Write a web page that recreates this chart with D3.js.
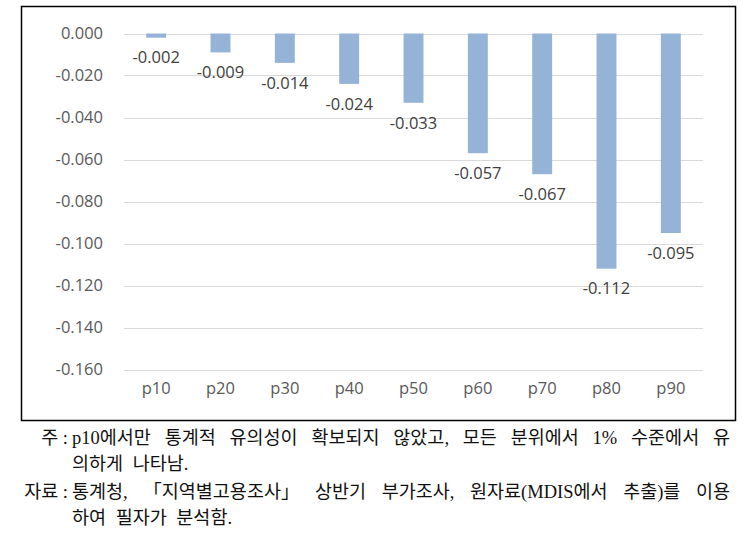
<!DOCTYPE html>
<html><head><meta charset="utf-8">
<script src="https://cdn.jsdelivr.net/npm/d3@7"></script>
<style>body{margin:0;background:#fff}svg{display:block}</style>
</head><body>
<svg id="c" width="754" height="547"></svg>
<script>
const categories = ["p10","p20","p30","p40","p50","p60","p70","p80","p90"];
const values = [-0.002,-0.009,-0.014,-0.024,-0.033,-0.057,-0.067,-0.112,-0.095];
const yTicks = [0,-0.02,-0.04,-0.06,-0.08,-0.1,-0.12,-0.14,-0.16];
const noteLines = [
  {label:"주 :", text:"p10에서만 통계적 유의성이 확보되지 않았고, 모든 분위에서 1% 수준에서 유", justify:true},
  {label:"", text:"의하게 나타남.", justify:false},
  {label:"자료 :", text:"통계청, 「지역별고용조사」 상반기 부가조사, 원자료(MDIS에서 추출)를 이용", justify:true},
  {label:"", text:"하여 필자가 분석함.", justify:false}
];

const svg = d3.select("#c");
svg.append("rect").attr("x",21.5).attr("y",6.5).attr("width",714).attr("height",414)
  .attr("fill","#fff").attr("stroke","#000").attr("stroke-width",1.5);

const x = d3.scaleBand().domain(categories).range([124,703]).paddingInner(0.69).paddingOuter(0.345);
const y = d3.scaleLinear().domain([0,-0.16]).range([33.5,369.5]);

const font = "'Open Sans', 'Liberation Sans', sans-serif";
const grid = svg.append("g");
grid.selectAll("line").data(yTicks).join("line")
  .attr("x1",124).attr("x2",703).attr("y1",d=>Math.round(y(d))+0.5).attr("y2",d=>Math.round(y(d))+0.5)
  .attr("stroke","#d9d9d9").attr("stroke-width",1);

const yAxis = d3.axisLeft(y).tickValues(yTicks).tickFormat(d3.format(".3f")).tickSize(0).tickPadding(0);
const ya = svg.append("g").attr("transform","translate(103,0)").call(yAxis);
ya.select(".domain").remove();
ya.selectAll("text").attr("font-family",font).attr("font-size",16.5).attr("fill","#595959")
  .text(d=> d===0 ? "0.000" : d3.format(".3f")(d).replace("−","-"));

const xAxis = d3.axisBottom(x).tickSize(0).tickPadding(0);
const xa = svg.append("g").attr("transform","translate(0,386)").call(xAxis);
xa.select(".domain").remove();
xa.selectAll("text").attr("font-family",font).attr("font-size",16.5).attr("fill","#595959").attr("dy","0.5em");

svg.append("g").selectAll("rect").data(values).join("rect")
  .attr("x",(d,i)=>x(categories[i])).attr("width",x.bandwidth())
  .attr("y",y(0)).attr("height",d=>y(d)-y(0)).attr("fill","#95b3d7");

svg.append("g").selectAll("text").data(values).join("text")
  .attr("x",(d,i)=>x(categories[i])+x.bandwidth()/2).attr("y",d=>y(d)+20)
  .attr("dy","0.35em").attr("text-anchor","middle")
  .attr("font-family",font).attr("font-size",16.5).attr("fill","#404040")
  .text(d=>d3.format(".3f")(d).replace("−","-"));

const nfont = "'Liberation Serif', 'Noto Sans CJK KR', serif";
const nsize = 18.5;
const lineY = [438,464,492,518];
const ng = svg.append("g");
noteLines.forEach((l,i)=>{
  if(l.label){
    ng.append("text").attr("x",68).attr("y",lineY[i]).attr("dy","0.35em").attr("text-anchor","end")
      .attr("font-family",nfont).attr("font-size",nsize).attr("fill","#111").text(l.label);
  }
  const t = ng.append("text").attr("x",72).attr("y",lineY[i]).attr("dy","0.35em")
    .attr("font-family",nfont).attr("font-size",nsize).attr("fill","#111").text(l.text);
  if(l.justify){
    const w = t.node().getComputedTextLength();
    const n = (l.text.match(/ /g)||[]).length;
    t.attr("word-spacing", (658 - w)/n);
  } else {
    t.attr("word-spacing", 5);
  }
});
</script>
</body></html>
